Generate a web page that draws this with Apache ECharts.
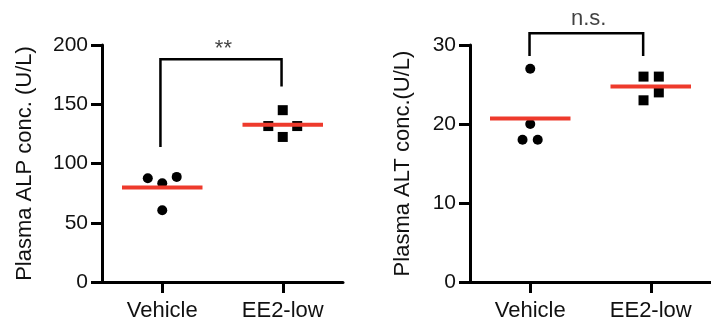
<!DOCTYPE html>
<html>
<head>
<meta charset="utf-8">
<script src="https://cdn.jsdelivr.net/npm/echarts@6/dist/echarts.min.js"></script>
<style>
html,body{margin:0;padding:0;background:#fff;}
#c{width:711px;height:322px;}
</style>
</head>
<body>
<div id="c"></div>
<script>
// ---- data ----
var categories = ['Vehicle', 'EE2-low'];
// ALP panel
var alpVehicleX = [-0.12, 0, 0.12, 0];       // jitter offsets
var alpVehicle  = [87.6, 83.4, 88.7, 60.5];
var alpEE2X     = [-0.12, 0, 0.12, 0];
var alpEE2      = [131.6, 145, 131.6, 122.4];
var alpMeans    = [79.8, 132.6];
var alpYTicks   = [0, 50, 100, 150, 200];
var alpBracketX = [0.985, 1.99];
var alpBracketY = [114, 188, 165];   // left foot, top, right foot
var alpSig      = '**';
// ALT panel
var altVehicleX = [0, 0, -0.064, 0.062];
var altVehicle  = [27, 20, 18, 18];
var altEE2X     = [-0.06, 0.067, 0.067, -0.06];
var altEE2      = [26, 26, 24, 23];
var altMeans    = [20.7, 24.75];
var altYTicks   = [0, 10, 20, 30];
var altBracketX = [0.994, 1.937];
var altBracketY = [28.6, 31.5, 28.6];
var altSig      = 'n.s.';

var FONT = 'Liberation Sans, Arial, sans-serif';
var TXT = '#111';
var RED = '#ee3a2c';

function pts(center, offs, vals){
  return vals.map(function(v,i){ return [center + offs[i], v]; });
}
function meanLine(center, m){
  return [[center - 0.334, m], [center + 0.334, m]];
}
function bracket(bx, by){
  return [[bx[0], by[0]], [bx[0], by[1]], [bx[1], by[1]], [bx[1], by[2]]];
}

function xAxisFor(gi){
  return {
    gridIndex: gi, type: 'value', min: 0.5, max: 2.5,
    axisLine: {show: true, lineStyle: {color: '#000', width: 3}},
    axisTick: {show: true, customValues: [1, 2], length: 11, inside: false, lineStyle: {color: '#000', width: 3}},
    axisLabel: {show: true, customValues: [1, 2], margin: 18, fontSize: 22, fontFamily: FONT, color: TXT,
      formatter: function(v){ return categories[Math.round(v) - 1] || ''; }},
    splitLine: {show: false}
  };
}
function yAxisFor(gi, max, interval, name, gap){
  return {
    gridIndex: gi, type: 'value', min: 0, max: max, interval: interval,
    name: name, nameLocation: 'middle', nameGap: gap,
    nameTextStyle: {fontSize: 22, fontFamily: FONT, color: TXT},
    axisLine: {show: true, lineStyle: {color: '#000', width: 3}},
    axisTick: {show: true, length: 11, lineStyle: {color: '#000', width: 3}},
    axisLabel: {margin: 14, fontSize: 21, fontFamily: FONT, color: TXT},
    splitLine: {show: false}
  };
}

var series = [];
function addPanel(gi, vX, v, eX, e, means, bx, by, sig, sigY){
  series.push({type: 'scatter', xAxisIndex: gi, yAxisIndex: gi, symbol: 'circle', symbolSize: 10,
    itemStyle: {color: '#000', opacity: 1}, data: pts(1, vX, v), z: 3});
  series.push({type: 'scatter', xAxisIndex: gi, yAxisIndex: gi, symbol: 'rect', symbolSize: 10,
    itemStyle: {color: '#000', opacity: 1}, data: pts(2, eX, e), z: 3});
  [0, 1].forEach(function(i){
    series.push({type: 'line', xAxisIndex: gi, yAxisIndex: gi, symbol: 'none', silent: true,
      lineStyle: {color: RED, width: 4}, data: meanLine(i + 1, means[i]), z: 4});
  });
  series.push({type: 'line', xAxisIndex: gi, yAxisIndex: gi, symbol: 'none', clip: false,
    lineStyle: {color: '#000', width: 2.5, join: 'miter'}, data: bracket(bx, by), z: 2});
  series.push({type: 'scatter', xAxisIndex: gi, yAxisIndex: gi, symbolSize: 0, clip: false,
    data: [[(bx[0] + bx[1]) / 2 + 0.02, sigY]],
    label: {show: true, position: 'inside', formatter: sig, fontSize: 22, fontFamily: FONT, color: TXT}});
}
addPanel(0, alpVehicleX, alpVehicle, alpEE2X, alpEE2, alpMeans, alpBracketX, alpBracketY, alpSig, 197);
addPanel(1, altVehicleX, altVehicle, altEE2X, altEE2, altMeans, altBracketX, altBracketY, altSig, 33.3);

var chart = echarts.init(document.getElementById('c'), null, {renderer: 'canvas'});
chart.setOption({
  animation: false,
  backgroundColor: '#fff',
  grid: [
    {left: 102, top: 45, width: 241, height: 239},
    {left: 470, top: 45, width: 241, height: 239}
  ],
  xAxis: [xAxisFor(0), xAxisFor(1)],
  yAxis: [
    yAxisFor(0, 200, 50, 'Plasma ALP conc. (U/L)', 66),
    yAxisFor(1, 30, 10, 'Plasma ALT conc.(U/L)', 56)
  ],
  series: series
});
</script>
</body>
</html>
